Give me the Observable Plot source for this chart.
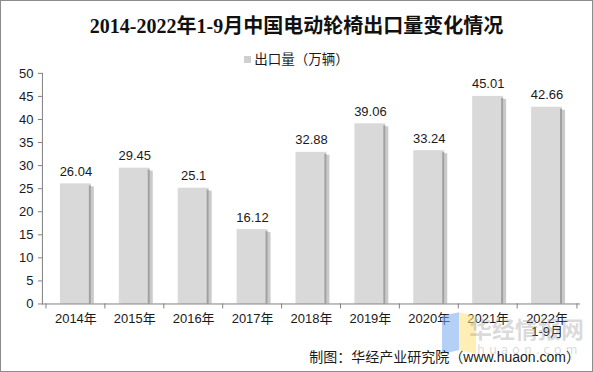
<!DOCTYPE html>
<html>
<head>
<meta charset="utf-8">
<script src="https://cdn.jsdelivr.net/npm/d3@7"></script>
<script src="https://cdn.jsdelivr.net/npm/@observablehq/plot@0.6"></script>
<style>
  html, body { margin: 0; padding: 0; background: #fff; }
  #wrap { position: relative; width: 591px; height: 370px; border: 1px solid #8c8c8c; overflow: hidden; background: #fff; }
  #chart { position: absolute; left: -1px; top: -1px; }
  .title { position: absolute; left: 0; width: 591px; top: 9px; text-align: center; font-family: 'Liberation Serif', 'Noto Sans CJK SC', serif; font-weight: bold; font-size: 20px; color: #111; }
  .legend { position: absolute; left: 0; width: 591px; top: 47px; text-align: center; font-family: 'Liberation Sans', 'Noto Sans CJK SC', sans-serif; font-size: 13.5px; color: #1a1a1a; }
  .legend .sw { display: inline-block; width: 7px; height: 7px; background: #cfcfcf; margin-right: 3px; vertical-align: 1px; }
  .caption { position: absolute; right: 12px; top: 345px; font-family: 'Liberation Sans', 'Noto Sans CJK SC', sans-serif; font-size: 14px; color: #1a1a1a; }
  .wm { position: absolute; font-family: 'Noto Sans CJK SC', sans-serif; font-weight: bold; color: rgba(150,150,150,0.35); white-space: nowrap; }
  .logo1 { position: absolute; left: 441px; top: 313px; width: 17px; height: 38px; background: rgba(120,170,240,0.55); transform: skewY(-12deg); }
  .logo2 { position: absolute; left: 458px; top: 313px; width: 17px; height: 38px; background: rgba(255,225,120,0.55); transform: skewY(12deg); }
</style>
</head>
<body>
<div id="wrap">
  <div id="chart"></div>
  <div class="title">2014-2022年1-9月中国电动轮椅出口量变化情况</div>
  <div class="legend"><span class="sw"></span>出口量（万辆）</div>
  <div class="logo1"></div><div class="logo2"></div>
  <div class="wm" style="left:468px; top:310px; font-size:23px;">华经情报网</div>
  <div class="wm" style="left:476px; top:338px; font-size:13px; font-weight:normal; letter-spacing:4px;">huaon.com</div>
  <div class="caption">制图：华经产业研究院（www.huaon.com）</div>
</div>
<script>
const categories = ["2014年","2015年","2016年","2017年","2018年","2019年","2020年","2021年","2022年\n1-9月"];
const values = [26.04, 29.45, 25.1, 16.12, 32.88, 39.06, 33.24, 45.01, 42.66];
const yTicks = [0, 5, 10, 15, 20, 25, 30, 35, 40, 45, 50];

const data = categories.map((c, i) => ({cat: c, v: values[i]}));

const W = 593, H = 372, mL = 42, mR = 12;
const step = (W - mL - mR) / categories.length;

const chart = Plot.plot({
  width: W,
  height: H,
  marginLeft: mL,
  marginRight: mR,
  marginTop: 73,
  marginBottom: 68,
  style: {fontFamily: "'Liberation Sans','Noto Sans CJK SC',sans-serif", fontSize: "13px", color: "#1a1a1a", background: "transparent"},
  x: {domain: categories, paddingInner: 0.48, paddingOuter: 0.24, label: null},
  y: {domain: [0, 50], label: null},
  marks: [
    Plot.barY(data, {x: "cat", y: "v", fill: "#b4b4b4", dx: 3, insetTop: 3, fillOpacity: 0.7}),
    Plot.barY(data, {x: "cat", y: "v", fill: "#d9d9d9"}),
    Plot.barY(data, {x: "cat", y: "v", fill: "#a0a0a0", insetLeft: 29, insetTop: 2}),
    Plot.text(data, {x: "cat", y: "v", text: d => String(d.v), lineAnchor: "bottom", dy: -8, fontSize: 13, fill: "#1a1a1a"}),
    Plot.axisY({ticks: yTicks, tickSize: 4, tickPadding: 5, fontSize: 13, label: null, stroke: "#808080"}),
    Plot.frame({anchor: "left", stroke: "#808080"}),
    Plot.ruleY([0], {stroke: "#808080"}),
    Plot.axisX({tickFormat: () => "", tickSize: 5, dx: -step / 2, label: null, stroke: "#808080"}),
    Plot.axisX({ticks: [categories[categories.length - 1]], tickFormat: () => "", tickSize: 5, dx: step / 2, label: null, stroke: "#808080"}),
    Plot.axisX({tickSize: 0, tickPadding: 10, fontSize: 13, label: null})
  ]
});
document.getElementById("chart").appendChild(chart);
</script>
</body>
</html>
